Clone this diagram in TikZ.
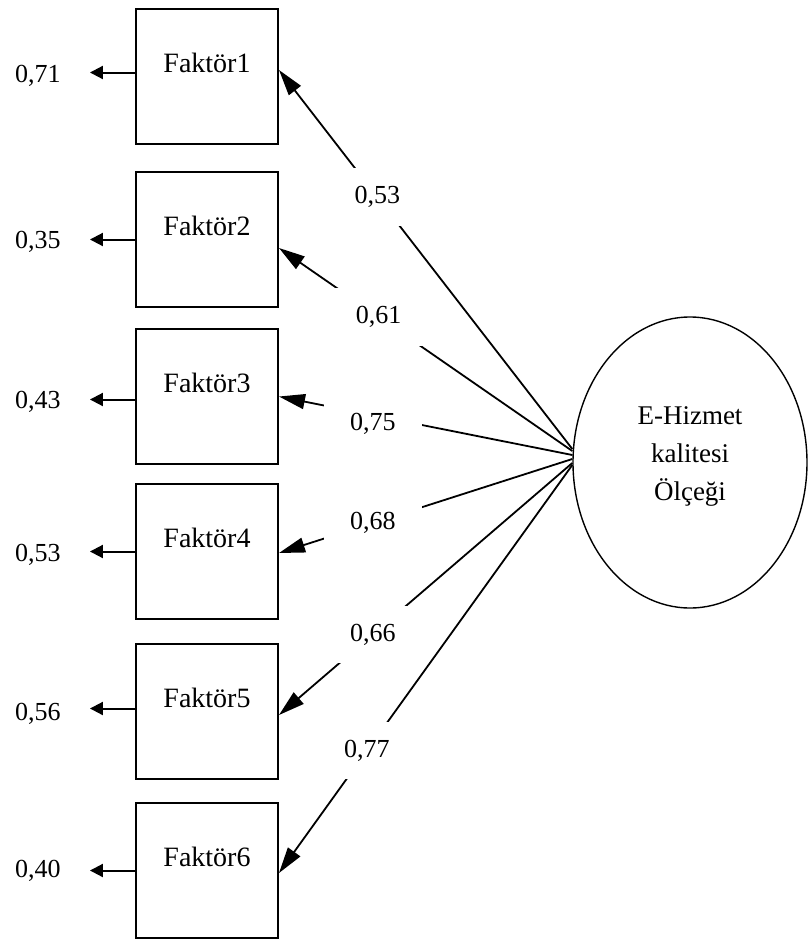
\documentclass[tikz,border=0pt]{standalone}
\usepackage{fontspec}
\setmainfont{Liberation Serif}
\usetikzlibrary{arrows.meta,shapes.geometric}
\begin{document}
\begin{tikzpicture}[x=1pt,y=-1pt,
  box/.style={draw, line width=2pt, minimum width=142pt, minimum height=135pt, inner sep=0pt},
  fak/.style={font=\fontsize{28}{34}\selectfont, inner sep=0pt},
  num/.style={font=\fontsize{26}{30}\selectfont},
  resid/.style={num, inner ysep=0pt, inner xsep=29pt},
  coef/.style={num, fill=white, inner xsep=26pt, inner ysep=18pt},
  resarrow/.style={line width=2pt, -{Triangle[length=13pt,width=13pt]}},
  load/.style={line width=1.8pt, -{Triangle[length=26pt,width=15pt]}},
]
\useasboundingbox (0,0) rectangle (808,940);

% observed indicators
\node[box] (b1) at (207,76.5)  {};
\node[box] (b2) at (207,239.5) {};
\node[box] (b3) at (207,396.5) {};
\node[box] (b4) at (207,551.5) {};
\node[box] (b5) at (207,711.5) {};
\node[box] (b6) at (207,870.5) {};

\node[fak] (f1) at ([yshift=14pt]b1.center) {Faktör1};
\node[fak] (f2) at ([yshift=14pt]b2.center) {Faktör2};
\node[fak] (f3) at ([yshift=14pt]b3.center) {Faktör3};
\node[fak] (f4) at ([yshift=14pt]b4.center) {Faktör4};
\node[fak] (f5) at ([yshift=14pt]b5.center) {Faktör5};
\node[fak] (f6) at ([yshift=14pt]b6.center) {Faktör6};

% latent variable
\node[draw, ellipse, line width=1.4pt, minimum width=234pt, minimum height=291pt, inner sep=0pt] (e) at (690,462.5) {};
\node[align=center, font=\fontsize{27}{38}\selectfont, inner sep=0pt] (et) at (690,456) {E-Hizmet\\kalitesi\\Ölçeği};

% error variances
\node[resid] (r1) at (38,76)  {0,71};
\node[resid] (r2) at (38,242) {0,35};
\node[resid] (r3) at (38,402) {0,43};
\node[resid] (r4) at (38,555) {0,53};
\node[resid] (r5) at (38,714) {0,56};
\node[resid] (r6) at (38,871) {0,40};

\draw[resarrow] ([yshift=4pt]b1.west) -- ([yshift=4pt]b1.west -| r1.east);
\draw[resarrow] (b2.west) -- (b2.west -| r2.east);
\draw[resarrow] ([yshift=-3pt]b3.west) -- ([yshift=-3pt]b3.west -| r3.east);
\draw[resarrow] (b4.west) -- (b4.west -| r4.east);
\draw[resarrow] ([yshift=3pt]b5.west) -- ([yshift=3pt]b5.west -| r5.east);
\draw[resarrow] (b6.west) -- (b6.west -| r6.east);

% factor loadings
\draw[load] ([yshift=13.5pt]e.west) -- node[coef,pos=0.665]{0,53} ([yshift=6.5pt]b1.east);
\draw[load] ([yshift=11.5pt]e.west) -- node[coef,pos=0.66]{0,61} ([yshift=-8.5pt]b2.east);
\draw[load] ([yshift=7.5pt]e.west) -- node[coef,pos=0.68,yshift=-9pt]{0,75} (b3.east);
\draw[load] ([yshift=3.5pt]e.west) -- node[coef,pos=0.68]{0,68} ([yshift=-1.5pt]b4.east);
\draw[load] ([yshift=-0.5pt]e.west) -- node[coef,pos=0.68]{0,66} ([yshift=-3.5pt]b5.east);
\draw[load] ([yshift=-2.5pt]e.west) -- node[coef,pos=0.70]{0,77} ([yshift=-2.5pt]b6.east);
\end{tikzpicture}
\end{document}
